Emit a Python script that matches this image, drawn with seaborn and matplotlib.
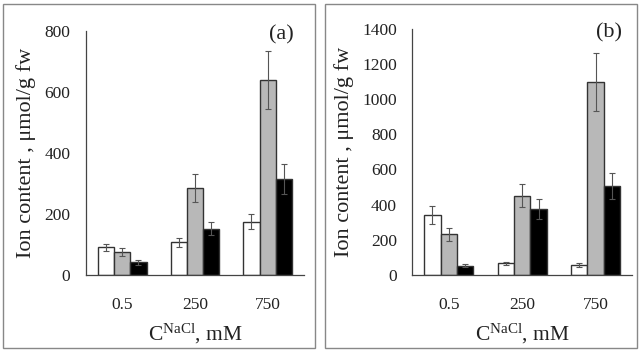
import numpy as np
import pandas as pd
import seaborn as sns
import matplotlib.pyplot as plt
from matplotlib.patches import Rectangle

# NaCl concentration groups and the three ion series (white, gray, black bars)
conc = ["0.5", "250", "750"]
ions = ["K", "Na", "Cl"]

# panel (a)
a_vals = {"K": [90, 107, 175], "Na": [75, 285, 640], "Cl": [42, 152, 315]}
a_errs = {"K": [13, 15, 25], "Na": [12, 45, 95], "Cl": [8, 22, 50]}
a_ticks = [0, 200, 400, 600, 800]

# panel (b)
b_vals = {"K": [340, 65, 55], "Na": [230, 450, 1100], "Cl": [52, 375, 505]}
b_errs = {"K": [50, 10, 10], "Na": [35, 65, 165], "Cl": [8, 55, 75]}
b_ticks = [0, 200, 400, 600, 800, 1000, 1200, 1400]

colors = ["#ffffff", "#b8b8b8", "#000000"]
txt = "#222222"


def long_df(vals):
    rows = []
    for ion in ions:
        for c, v in zip(conc, vals[ion]):
            rows.append({"conc": c, "ion": ion, "value": v})
    return pd.DataFrame(rows)


def panel(ax, vals, errs, ticks, tag):
    df = long_df(vals)
    sns.barplot(data=df, x="conc", y="value", hue="ion", order=conc,
                hue_order=ions, palette=colors, width=0.67, errorbar=None,
                edgecolor="#333333", linewidth=1.0, legend=False, ax=ax)
    for cont, ion in zip(ax.containers, ions):
        xs = [b.get_x() + b.get_width() / 2 for b in cont]
        ax.errorbar(xs, vals[ion], yerr=errs[ion], fmt="none",
                    ecolor="#555555", elinewidth=0.8, capsize=2, capthick=0.8)
    ax.set_xlim(-0.5, 2.5)
    ax.set_ylim(ticks[0], ticks[-1])
    ax.set_yticks(ticks)
    ax.tick_params(axis="y", direction="out", length=3, width=0.8,
                   colors="#444444", labelcolor=txt, labelsize=12.5, pad=8)
    ax.tick_params(axis="x", length=0, labelcolor=txt, labelsize=12.5, pad=16)
    for s in ["top", "right"]:
        ax.spines[s].set_visible(False)
    for s in ["left", "bottom"]:
        ax.spines[s].set_color("#444444")
        ax.spines[s].set_linewidth(0.9)
    ax.set_xlabel(r"$\mathregular{C^{NaCl}}$, mM", fontsize=15.5, color=txt,
                  labelpad=6)
    ax.set_ylabel("Ion content , \u03bcmol/g fw", fontsize=16, color=txt,
                  labelpad=6)
    ax.text(0.895, 0.985, tag, transform=ax.transAxes, ha="center",
            va="center", fontsize=16, color=txt)


def main():
    sns.set_style("white")
    plt.rcParams["font.family"] = ["Liberation Serif", "DejaVu Serif"]
    plt.rcParams["mathtext.fontset"] = "custom"
    plt.rcParams["mathtext.rm"] = "Liberation Serif"

    fig = plt.figure(figsize=(6.4, 3.52), dpi=100)
    ax1 = fig.add_axes([0.134, 0.219, 0.341, 0.693])
    ax2 = fig.add_axes([0.644, 0.219, 0.344, 0.699])

    panel(ax1, a_vals, a_errs, a_ticks, "(a)")
    panel(ax2, b_vals, b_errs, b_ticks, "(b)")

    # grey frames around each panel
    for x0, x1 in [(3, 315), (325, 637)]:
        fig.add_artist(Rectangle((x0 / 640, 4 / 352), (x1 - x0) / 640,
                                 344 / 352, transform=fig.transFigure,
                                 fill=False, edgecolor="#888888",
                                 linewidth=1.0))

    fig.savefig("out.png", dpi=100)


if __name__ == "__main__":
    main()
